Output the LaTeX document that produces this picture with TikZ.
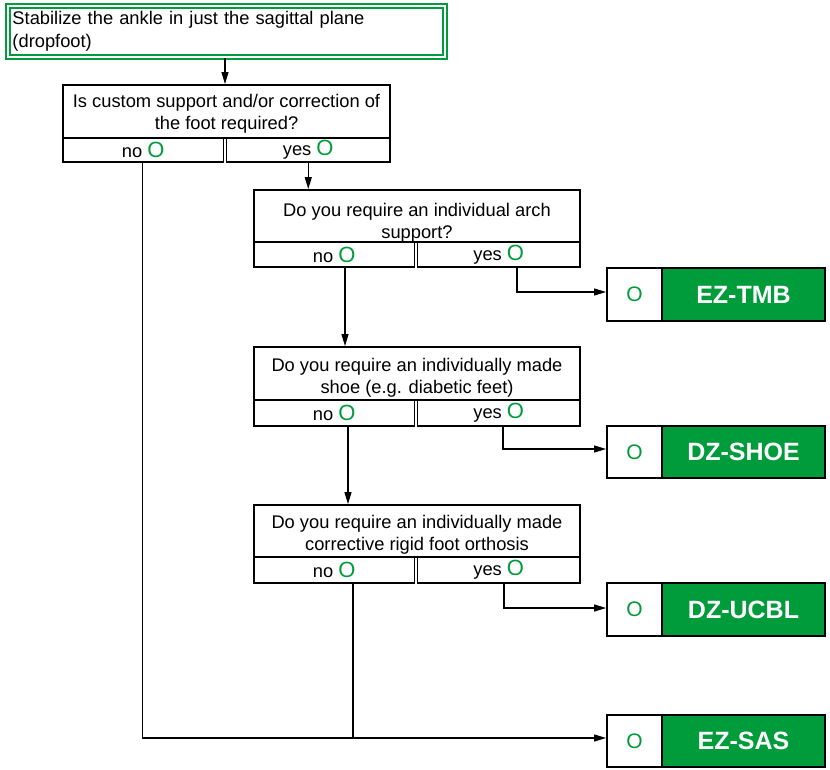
\documentclass[tikz,border=0pt]{standalone}
\usepackage{fontspec}
\setmainfont{Liberation Sans}
\usetikzlibrary{arrows.meta}
\definecolor{eg}{RGB}{0,155,58}
\newcommand{\gO}{{\color{eg}\fontsize{22}{20}\selectfont O}}
\tikzset{
  startbox/.style={draw=eg, double, line width=1.9pt, double distance=1.9pt, inner xsep=4.5pt, inner ysep=2pt, text width=428pt, align=left, minimum height=51pt, font=\fontsize{18.3}{22.5}\selectfont},
  qbox/.style={draw, line width=1.9pt, inner sep=0pt, minimum width=326pt},
  qtext/.style={inner sep=0pt, align=center, font=\fontsize{18.3}{22}\selectfont},
  cell/.style={draw, line width=1.9pt, inner sep=0pt, font=\fontsize{18.3}{20}\selectfont},
  rleft/.style={draw, line width=1.9pt, fill=white, minimum width=55pt, inner sep=0pt, text=eg, font=\fontsize{21}{19}\selectfont},
  rright/.style={draw, line width=1.9pt, fill=eg, minimum width=163pt, inner sep=0pt, text=white, font=\bfseries\fontsize{25}{25}\selectfont},
  conn/.style={line width=1.3pt, -{Triangle[length=12pt,width=7pt]}},
  plain/.style={line width=1.3pt}
}
\begin{document}
\begin{tikzpicture}[x=1pt,y=-1pt]
\useasboundingbox (0,0) rectangle (830,769);
% start
\node[startbox, minimum width=437pt] (start) at (226.5,31.5) {Stabilize the ankle in just the sagittal plane\\(dropfoot)};
% question 1
\node[qbox, minimum width=327pt, minimum height=53pt] (q1) at (226.5,111.5) {};
\node[qtext] (q1t) at ([yshift=-2.5pt]q1.center) {Is custom support and/or correction of\\the foot required?};
\node[cell, minimum width=160.5pt, minimum height=24pt] (q1no) at (143.25,150) {no \gO};
\node[cell, minimum width=163.5pt, minimum height=24pt] (q1yes) at (308.25,150) {yes \gO};
% question 2
\node[qbox, minimum height=52pt] (q2) at (417,216) {};
\node[qtext] (q2t) at ([yshift=-7pt]q2.center) {Do you require an individual arch\\support?};
\node[cell, minimum width=160.5pt, minimum height=25pt] (q2no) at (334.25,254.5) {no \gO};
\node[cell, minimum width=162.5pt, minimum height=25pt] (q2yes) at (498.75,254.5) {yes \gO};
% question 3
\node[qbox, minimum height=53pt] (q3) at (417,373.5) {};
\node[qtext] (q3t) at ([yshift=-4.5pt]q3.center) {Do you require an individually made\\shoe (e.g. diabetic feet)};
\node[cell, minimum width=160.5pt, minimum height=26pt] (q3no) at (334.25,413) {no \gO};
\node[cell, minimum width=162.5pt, minimum height=26pt] (q3yes) at (498.75,413) {yes \gO};
% question 4
\node[qbox, minimum height=52pt] (q4) at (417,531) {};
\node[qtext] (q4t) at ([yshift=-4pt]q4.center) {Do you require an individually made\\corrective rigid foot orthosis};
\node[cell, minimum width=160.5pt, minimum height=26pt] (q4no) at (334.25,570) {no \gO};
\node[cell, minimum width=162.5pt, minimum height=26pt] (q4yes) at (498.75,570) {yes \gO};
% results
\node[rleft, minimum height=53pt] (r1o) at (634.5,294.5) {O};
\node[rright, minimum height=53pt] (r1) at (743.5,294.5) {EZ-TMB};
\node[rleft, minimum height=52pt] (r2o) at (634.5,452) {O};
\node[rright, minimum height=52pt] (r2) at (743.5,452) {DZ-SHOE};
\node[rleft, minimum height=53pt] (r3o) at (634.5,609.5) {O};
\node[rright, minimum height=53pt] (r3) at (743.5,609.5) {DZ-UCBL};
\node[rleft, minimum height=52pt] (r4o) at (634.5,741) {O};
\node[rright, minimum height=52pt] (r4) at (743.5,741) {EZ-SAS};
% connector points
\coordinate (s0) at ([xshift=-1.5pt]start.south);
\coordinate (n1) at ([xshift=-1pt]q1no.south);
\coordinate (n2) at ([xshift=10.75pt]q2no.south);
\coordinate (n3) at ([xshift=13.75pt]q3no.south);
\coordinate (n4) at ([xshift=18.75pt]q4no.south);
\coordinate (y2) at ([xshift=18.25pt]q2yes.south);
\coordinate (y3) at ([xshift=4.25pt]q3yes.south);
\coordinate (y4) at ([xshift=5.25pt]q4yes.south);
\coordinate (t1) at ([yshift=2.5pt]r1o.west);
\coordinate (t2) at ([yshift=3pt]r2o.west);
\coordinate (t3) at ([yshift=1.5pt]r3o.west);
\coordinate (t4) at ([yshift=3pt]r4o.west);
% connectors
\draw[conn] (s0) -- (s0 |- q1.north);
\draw[conn] (q1yes.south) -- (q1yes.south |- q2.north);
\draw[conn] (n1) |- (t4);
\draw[conn] (y2) |- (t1);
\draw[conn] (n2) -- (n2 |- q3.north);
\draw[conn] (y3) |- (t2);
\draw[conn] (n3) -- (n3 |- q4.north);
\draw[conn] (y4) |- (t3);
\draw[plain] (n4) -- (n4 |- t4);
\end{tikzpicture}
\end{document}
